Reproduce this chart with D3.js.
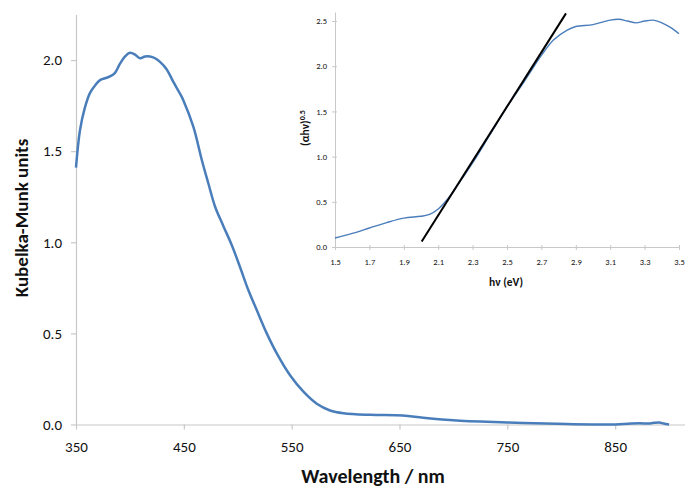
<!DOCTYPE html>
<html>
<head>
<meta charset="utf-8">
<script src="https://cdn.jsdelivr.net/npm/d3@7"></script>
<style>
  html, body { margin: 0; padding: 0; background: #fff; }
  svg { display: block; font-family: Carlito, Lato, "Liberation Sans", sans-serif; }
</style>
</head>
<body>
<svg id="chart" width="685" height="489"></svg>
<script>
// Kubelka-Munk spectrum: wavelength (nm) and K-M units
const wavelength = [350, 353.7, 358.3, 363, 367.6, 372.3, 376.9, 381.5, 386.2, 390.8, 395.5, 400, 404.7, 409.4, 414, 418.6, 423.3, 427.9, 434, 440.3, 446.5, 449.5, 458.8, 466.6, 472.7, 479, 486.6, 494.4, 502, 509.8, 517.6, 526.9, 536.2, 548.5, 560.9, 573.3, 585.6, 598, 622.7, 653, 672, 703, 749.5, 796, 850, 862, 873, 880, 886, 891, 895, 900];
const kmUnits    = [1.41, 1.615, 1.74, 1.82, 1.86, 1.89, 1.90, 1.91, 1.93, 1.98, 2.02, 2.04, 2.03, 2.01, 2.02, 2.02, 2.01, 1.99, 1.95, 1.88, 1.815, 1.78, 1.634, 1.453, 1.324, 1.195, 1.09, 0.985, 0.866, 0.738, 0.628, 0.50, 0.39, 0.27, 0.18, 0.114, 0.077, 0.062, 0.053, 0.049, 0.037, 0.022, 0.011, 0.004, 0.0, 0.004, 0.007, 0.005, 0.009, 0.011, 0.005, 0.0];

// Tauc plot: photon energy (eV) and (αhν)^0.5
const photonEnergy = [1.5, 1.6, 1.7, 1.8, 1.9, 2.0, 2.05, 2.1, 2.15, 2.2, 2.3, 2.4, 2.5, 2.6, 2.7, 2.77, 2.85, 2.9, 3.0, 3.1, 3.15, 3.2, 3.25, 3.3, 3.35, 3.4, 3.45, 3.5];
const taucValue    = [0.10, 0.15, 0.21, 0.27, 0.32, 0.34, 0.36, 0.42, 0.52, 0.65, 0.93, 1.24, 1.55, 1.83, 2.12, 2.29, 2.40, 2.44, 2.46, 2.51, 2.52, 2.50, 2.48, 2.50, 2.51, 2.48, 2.43, 2.36];

// Linear extrapolation of the absorption edge
const fitEnergy = [2.004, 2.843];
const fitValue  = [0.06, 2.585];

// Tick values
const mainXTicks  = [350, 450, 550, 650, 750, 850];
const mainYTicks  = [0, 0.5, 1.0, 1.5, 2.0];
const insetXTicks = [1.5, 1.7, 1.9, 2.1, 2.3, 2.5, 2.7, 2.9, 3.1, 3.3, 3.5];
const insetYTicks = [0, 0.5, 1.0, 1.5, 2.0, 2.5];

const svg = d3.select("#chart");
const axisColor = "#c8c8c8";
const lineBlue = "#4a7ebb";
const fontStack = "Carlito, Lato, 'Liberation Sans', sans-serif";

// ---------- main panel ----------
const x = d3.scaleLinear().domain([350, 950]).range([76, 723]);
const y = d3.scaleLinear().domain([0, 2.25]).range([424.5, 14.5]);

const main = svg.append("g");

const xAxis = main.append("g")
  .attr("transform", `translate(0,${y(0)})`)
  .call(d3.axisBottom(x).tickValues(mainXTicks).tickSize(5).tickSizeOuter(0).tickPadding(12)
        .tickFormat(d3.format("d")));
const yAxis = main.append("g")
  .attr("transform", `translate(${x(350)},0)`)
  .call(d3.axisLeft(y).tickValues(mainYTicks).tickSize(5).tickSizeOuter(0).tickPadding(9)
        .tickFormat(d3.format(".1f")));

[xAxis, yAxis].forEach(a => {
  a.select(".domain").attr("stroke", axisColor).attr("stroke-width", 1.2);
  a.selectAll(".tick line").attr("stroke", axisColor).attr("stroke-width", 1.2);
  a.selectAll(".tick text").attr("fill", "#111").style("font-size", "15px")
    .style("font-family", fontStack);
});

const mainLine = d3.line()
  .x((d, i) => x(wavelength[i]))
  .y(d => y(d))
  .curve(d3.curveCatmullRom.alpha(0.5));

main.append("path")
  .datum(kmUnits)
  .attr("d", mainLine)
  .attr("fill", "none")
  .attr("stroke", lineBlue)
  .attr("stroke-width", 2.5)
  .attr("stroke-linejoin", "round");

main.append("text")
  .attr("x", 373).attr("y", 483)
  .attr("text-anchor", "middle")
  .style("font-size", "20px").style("font-weight", "bold")
  .attr("fill", "#111")
  .text("Wavelength / nm");

main.append("text")
  .attr("transform", "translate(28,218) rotate(-90)")
  .attr("text-anchor", "middle")
  .style("font-size", "19px").style("font-weight", "bold")
  .attr("fill", "#111")
  .text("Kubelka-Munk units");

// ---------- inset panel ----------
const xi = d3.scaleLinear().domain([1.5, 3.5]).range([335, 679]);
const yi = d3.scaleLinear().domain([0, 2.6]).range([247, 12]);

const inset = svg.append("g");

const xiAxis = inset.append("g")
  .attr("transform", `translate(0,${yi(0)})`)
  .call(d3.axisBottom(xi).tickValues(insetXTicks).tickSize(3).tickSizeOuter(0).tickPadding(9)
        .tickFormat(d3.format(".1f")));
const yiAxis = inset.append("g")
  .attr("transform", `translate(${xi(1.5)},0)`)
  .call(d3.axisLeft(yi).tickValues(insetYTicks).tickSize(3).tickSizeOuter(0).tickPadding(5)
        .tickFormat(d3.format(".1f")));

xiAxis.selectAll(".tick line").attr("y1", -2);
yiAxis.selectAll(".tick line").attr("x1", 2);

[xiAxis, yiAxis].forEach(a => {
  a.select(".domain").attr("stroke", axisColor).attr("stroke-width", 1);
  a.selectAll(".tick line").attr("stroke", axisColor).attr("stroke-width", 1);
  a.selectAll(".tick text").attr("fill", "#111").style("font-size", "8.5px")
    .style("font-family", fontStack);
});

const insetLine = d3.line()
  .x((d, i) => xi(photonEnergy[i]))
  .y(d => yi(d))
  .curve(d3.curveCatmullRom.alpha(0.5));

inset.append("path")
  .datum(taucValue)
  .attr("d", insetLine)
  .attr("fill", "none")
  .attr("stroke", lineBlue)
  .attr("stroke-width", 1.4);

const fitLine = d3.line()
  .x((d, i) => xi(fitEnergy[i]))
  .y(d => yi(d));

inset.append("path")
  .datum(fitValue)
  .attr("d", fitLine)
  .attr("fill", "none")
  .attr("stroke", "#000")
  .attr("stroke-width", 2);

inset.append("text")
  .attr("x", 506).attr("y", 286)
  .attr("text-anchor", "middle")
  .style("font-size", "11.5px").style("font-weight", "bold")
  .attr("fill", "#111")
  .text("hν (eV)");

const yiTitle = inset.append("text")
  .attr("transform", "translate(309,128) rotate(-90)")
  .attr("text-anchor", "middle")
  .style("font-size", "11.5px").style("font-weight", "bold")
  .attr("fill", "#111");
yiTitle.append("tspan").text("(αhν)");
yiTitle.append("tspan").attr("dy", -4).style("font-size", "8px").text("0.5");
</script>
</body>
</html>
